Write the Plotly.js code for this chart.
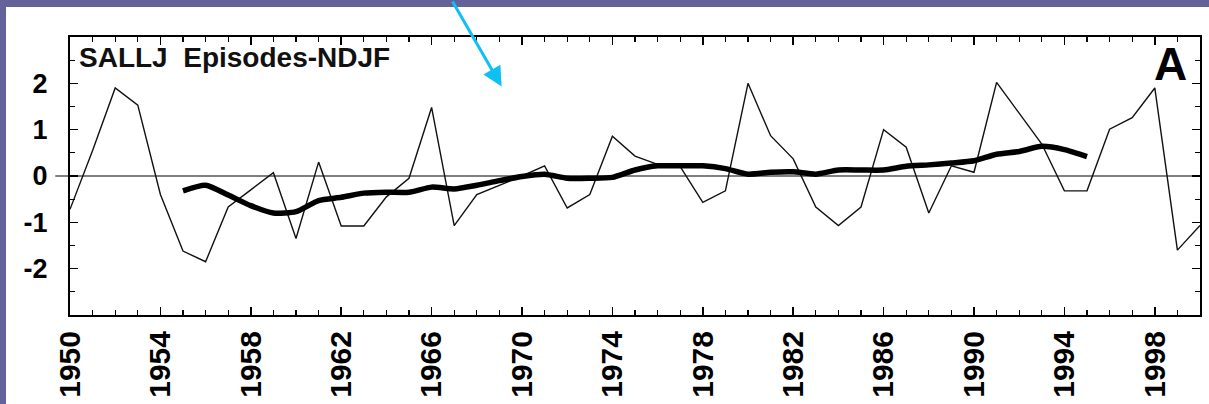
<!DOCTYPE html>
<html>
<head>
<meta charset="utf-8">
<script src="https://cdn.plot.ly/plotly-3.0.1.min.js"></script>
<style>
  html, body { margin: 0; padding: 0; background: #64629b; width: 1209px; height: 404px; overflow: hidden; }
  #white { position: absolute; left: 6px; top: 7px; width: 1203px; height: 397px; background: #ffffff; }
  #chart { position: absolute; left: 0; top: 0; width: 1209px; height: 404px; }
</style>
</head>
<body>
<div id="white"></div>
<div id="chart"></div>
<script>
// Annual SALLJ episodes index (NDJF), 1950-2000
const years = [1950,1951,1952,1953,1954,1955,1956,1957,1958,1959,
               1960,1961,1962,1963,1964,1965,1966,1967,1968,1969,
               1970,1971,1972,1973,1974,1975,1976,1977,1978,1979,
               1980,1981,1982,1983,1984,1985,1986,1987,1988,1989,
               1990,1991,1992,1993,1994,1995,1996,1997,1998,1999,2000];
const episodes = [-0.72, 0.55, 1.9, 1.53, -0.4, -1.62, -1.85, -0.67, -0.3, 0.07,
                  -1.35, 0.3, -1.08, -1.08, -0.45, -0.05, 1.48, -1.07, -0.4, -0.2,
                  0.0, 0.22, -0.69, -0.4, 0.86, 0.43, 0.25, 0.2, -0.57, -0.32,
                  2.0, 0.87, 0.37, -0.67, -1.07, -0.67, 1.0, 0.62, -0.8, 0.22,
                  0.08, 2.02, 1.35, 0.69, -0.32, -0.32, 1.01, 1.26, 1.9, -1.6, -1.07];

// Smoothed (running mean) series, 1955-1995
const smoothYears = [1955,1956,1957,1958,1959,1960,1961,1962,1963,1964,
                     1965,1966,1967,1968,1969,1970,1971,1972,1973,1974,
                     1975,1976,1977,1978,1979,1980,1981,1982,1983,1984,
                     1985,1986,1987,1988,1989,1990,1991,1992,1993,1994,1995];
const smoothVals = [-0.32, -0.2, -0.41, -0.64, -0.8, -0.77, -0.53, -0.46, -0.37, -0.35,
                    -0.35, -0.24, -0.28, -0.2, -0.1, -0.01, 0.04, -0.05, -0.05, -0.03,
                    0.13, 0.22, 0.22, 0.22, 0.16, 0.04, 0.08, 0.09, 0.04, 0.13,
                    0.13, 0.13, 0.21, 0.24, 0.28, 0.33, 0.47, 0.53, 0.64, 0.57, 0.42];

const xTickVals = [1950,1954,1958,1962,1966,1970,1974,1978,1982,1986,1990,1994,1998];
const xTickText = xTickVals.map(String);
const yTickVals = [-2,-1,0,1,2];
const yTickText = ['-2','-1','0','1','2'];

const titleText = 'SALLJ  Episodes-NDJF';
const panelLabel = 'A';

const FONT = 'Liberation Sans, Arial, Helvetica, sans-serif';

const traces = [
  {
    x: years, y: episodes, type: 'scatter', mode: 'lines',
    line: { color: '#111111', width: 1.4 },
    hoverinfo: 'x+y', showlegend: false
  },
  {
    x: smoothYears, y: smoothVals, type: 'scatter', mode: 'lines',
    line: { color: '#000000', width: 5.5, shape: 'spline', smoothing: 0.6 },
    hoverinfo: 'x+y', showlegend: false
  }
];

const layout = {
  width: 1209, height: 404,
  margin: { l: 70, r: 9, t: 37, b: 89, pad: 0 },
  paper_bgcolor: 'rgba(0,0,0,0)',
  plot_bgcolor: '#ffffff',
  showlegend: false,
  xaxis: {
    range: [1950, 2000],
    tickmode: 'array', tickvals: xTickVals, ticktext: xTickText,
    tickangle: -90,
    ticks: 'inside', ticklen: 8, tickwidth: 1.5, tickcolor: '#000',
    minor: { dtick: 1, tick0: 1950, ticks: 'inside', ticklen: 5, tickwidth: 1.2, tickcolor: '#000', showgrid: false },
    showline: true, linecolor: '#000', linewidth: 2, mirror: 'ticks',
    showgrid: false, zeroline: false,
    tickfont: { family: FONT, size: 30, color: '#000', weight: 'bold' },
    ticklabelstandoff: 2
  },
  yaxis: {
    range: [-3, 3],
    tickmode: 'array', tickvals: yTickVals, ticktext: yTickText,
    ticks: 'inside', ticklen: 8, tickwidth: 1.5, tickcolor: '#000',
    minor: { dtick: 0.5, tick0: 0, ticks: 'inside', ticklen: 5, tickwidth: 1.2, tickcolor: '#000', showgrid: false },
    showline: true, linecolor: '#000', linewidth: 2, mirror: 'ticks',
    showgrid: false, zeroline: false,
    tickfont: { family: FONT, size: 27, color: '#000', weight: 'bold' },
    ticklabelstandoff: 15
  },
  shapes: [
    { type: 'line', xref: 'paper', yref: 'y', x0: -0.013, x1: 1, y0: 0, y1: 0,
      line: { color: '#555555', width: 1.5 }, layer: 'below' }
  ],
  annotations: [
    { text: titleText, xref: 'paper', yref: 'paper', x: 0.006, y: 0.99,
      xanchor: 'left', yanchor: 'top', showarrow: false,
      font: { family: FONT, size: 28, color: '#111', weight: 'bold' } },
    { text: panelLabel, xref: 'paper', yref: 'paper', x: 0.99, y: 1.005,
      xanchor: 'right', yanchor: 'top', showarrow: false,
      font: { family: FONT, size: 46, color: '#000', weight: 'bold' } },
    { text: '', xref: 'x', yref: 'y', x: 1969.1, y: 1.93,
      axref: 'pixel', ayref: 'pixel', ax: -50, ay: -88,
      showarrow: true, arrowhead: 2, arrowsize: 1.3, arrowwidth: 3,
      arrowcolor: '#0fc0f2' }
  ]
};

Plotly.newPlot('chart', traces, layout, { displayModeBar: false, staticPlot: true });
</script>
</body>
</html>
